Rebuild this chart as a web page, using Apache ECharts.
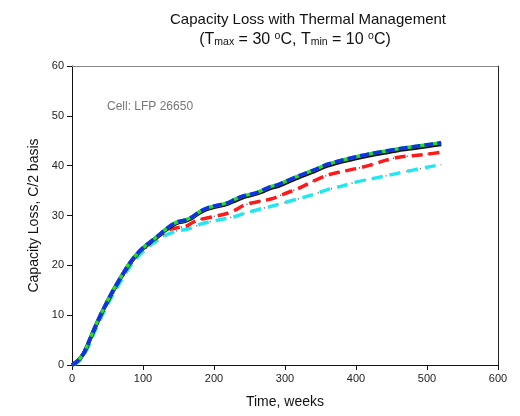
<!DOCTYPE html>
<html>
<head>
<meta charset="utf-8">
<script src="https://cdn.jsdelivr.net/npm/echarts@6/dist/echarts.min.js"></script>
<style>
  html, body { margin: 0; padding: 0; background: #fff; }
  #chart { width: 520px; height: 416px; }
</style>
</head>
<body>
<div id="chart"></div>
<script>
// weeks shared by all curves
const weeks = [0, 8, 16, 24, 32, 40, 48, 56, 64, 72, 80, 88, 96, 104, 112, 120, 130, 140, 150, 160,
  170, 180, 190, 200, 210, 220, 230, 240, 250, 260, 270, 280, 290, 300, 320, 340, 360, 380, 400,
  420, 440, 460, 480, 500, 520];

const lossBlue = [0, 0.8, 2.3, 4.8, 7.5, 10.0, 12.3, 14.5, 16.5, 18.4, 20.2, 21.7, 23.0, 24.0, 24.9, 25.8,
  27.0, 28.1, 28.8, 29.1, 29.8, 30.8, 31.5, 31.9, 32.2, 32.6, 33.3, 33.9, 34.2, 34.6, 35.2, 35.8, 36.2,
  36.8, 38.0, 39.1, 40.3, 41.1, 41.8, 42.4, 42.9, 43.4, 43.8, 44.2, 44.6];
const lossGreen = [0, 0.8, 2.3, 4.8, 7.5, 10.0, 12.3, 14.5, 16.5, 18.4, 20.2, 21.7, 23.0, 24.0, 24.9, 25.8,
  27.0, 28.1, 28.8, 29.1, 29.8, 30.8, 31.5, 31.9, 32.2, 32.6, 33.3, 33.9, 34.2, 34.6, 35.2, 35.8, 36.2,
  36.8, 38.0, 39.1, 40.3, 41.1, 41.8, 42.4, 42.9, 43.4, 43.8, 44.2, 44.6];
const lossBlack = [0, 0.8, 2.2, 4.7, 7.4, 9.9, 12.2, 14.4, 16.4, 18.3, 20.1, 21.6, 22.9, 23.9, 24.8, 25.7,
  26.9, 27.9, 28.6, 28.9, 29.6, 30.6, 31.3, 31.7, 32.0, 32.4, 33.0, 33.6, 34.0, 34.4, 34.9, 35.5, 35.9,
  36.5, 37.7, 38.8, 40.0, 40.8, 41.5, 42.1, 42.6, 43.1, 43.5, 43.9, 44.3];
const lossRed = [0, 0.8, 2.2, 4.6, 7.3, 9.8, 12.1, 14.3, 16.3, 18.2, 20.0, 21.5, 22.8, 23.8, 24.7, 25.6,
  26.6, 27.3, 27.6, 27.8, 28.6, 29.2, 29.5, 29.8, 30.1, 30.5, 31.1, 31.9, 32.4, 32.7, 33.0, 33.3, 33.8,
  34.4, 35.5, 36.9, 38.1, 38.8, 39.4, 40.1, 41.0, 41.7, 42.0, 42.3, 42.7];
const lossCyan = [0, 0.5, 1.8, 4.0, 6.7, 9.2, 11.5, 13.7, 15.7, 17.6, 19.4, 20.9, 22.2, 23.3, 24.2, 25.0,
  25.9, 26.5, 27.0, 27.2, 27.6, 28.2, 28.6, 28.9, 29.2, 29.5, 29.8, 30.3, 30.7, 31.1, 31.5, 31.8, 32.2,
  32.6, 33.4, 34.2, 35.2, 35.9, 36.7, 37.3, 37.9, 38.5, 39.1, 39.7, 40.2];

const xTicks = [0, 100, 200, 300, 400, 500, 600];
const yTicks = [0, 10, 20, 30, 40, 50, 60];

const pairs = arr => weeks.map((w, i) => [w, arr[i]]);

const chart = echarts.init(document.getElementById('chart'), null, { renderer: 'canvas' });

const font = 'Liberation Sans, Arial, sans-serif';

function line(name, data, color, width, type, z) {
  return {
    name, type: 'line', data: pairs(data), showSymbol: false, smooth: 0.3, z,
    lineStyle: { color, width, type, cap: 'butt' }
  };
}

const option = {
  animation: false,
  title: [
    {
      text: 'Capacity Loss with Thermal Management',
      left: 303, top: 7, textAlign: 'center',
      textStyle: { fontFamily: font, fontSize: 15, fontWeight: 'normal', color: '#111' }
    },
    {
      text: '{n|(T}{sub|max}{n| = 30 }{sup|o}{n|C, T}{sub|min}{n| = 10 }{sup|o}{n|C)}',
      left: 290, top: 26, textAlign: 'center',
      textStyle: {
        fontFamily: font, fontSize: 15, fontWeight: 'normal', color: '#111',
        rich: {
          n: { fontFamily: font, fontSize: 16, color: '#111', lineHeight: 17 },
          sub: { fontFamily: font, fontSize: 10.5, color: '#111', lineHeight: 4, verticalAlign: 'bottom' },
          sup: { fontFamily: font, fontSize: 10.5, color: '#111', lineHeight: 6, verticalAlign: 'top' }
        }
      }
    }
  ],
  graphic: [
    {
      type: 'text', left: 107, top: 101,
      style: { text: 'Cell: LFP 26650', fontFamily: font, fontSize: 12, fill: '#777' }
    }
  ],
  grid: { left: 72, right: 22, top: 66, bottom: 51 },
  xAxis: [
    {
      type: 'value', min: 0, max: 600, interval: 100,
      name: 'Time, weeks', nameLocation: 'middle', nameGap: 30,
      nameTextStyle: { fontFamily: font, fontSize: 14, color: '#111' },
      axisLine: { show: true, onZero: false, lineStyle: { color: '#111', width: 1 } },
      axisTick: { show: true, inside: false, length: 5, lineStyle: { color: '#111' } },
      axisLabel: {
        margin: 8, fontFamily: font, fontSize: 11, color: '#222',
        formatter: v => xTicks.includes(v) ? String(v) : ''
      },
      splitLine: { show: false }
    },
    {
      type: 'value', position: 'top', min: 0, max: 600,
      axisLine: { show: true, onZero: false, lineStyle: { color: '#888', width: 1 } },
      axisTick: { show: false }, axisLabel: { show: false }, splitLine: { show: false }
    }
  ],
  yAxis: [
    {
      type: 'value', min: 0, max: 60, interval: 10,
      name: 'Capacity Loss, C/2 basis', nameLocation: 'middle', nameGap: 31, nameRotate: 90,
      nameTextStyle: { fontFamily: font, fontSize: 14, color: '#111' },
      axisLine: { show: true, onZero: false, lineStyle: { color: '#111', width: 1 } },
      axisTick: { show: true, inside: false, length: 5, lineStyle: { color: '#111' } },
      axisLabel: {
        margin: 8, fontFamily: font, fontSize: 11, color: '#222',
        formatter: v => yTicks.includes(v) ? String(v) : ''
      },
      splitLine: { show: false }
    },
    {
      type: 'value', position: 'right', min: 0, max: 60,
      axisLine: { show: true, onZero: false, lineStyle: { color: '#222', width: 1 } },
      axisTick: { show: false }, axisLabel: { show: false }, splitLine: { show: false }
    }
  ],
  series: [
    line('cyan dots', lossCyan, '#666', 1.5, [1, 6], 2),
    line('cyan', lossCyan, '#22e6f2', 3.5, [11, 7], 3),
    line('red dots', lossRed, '#555', 1.5, [1, 6], 4),
    line('red', lossRed, '#ff1a1a', 3.5, [11, 6], 5),
    line('black', lossBlack, '#111', 4, 'solid', 6),
    line('green', lossGreen, '#22dd22', 3.5, 'solid', 7),
    line('blue', lossBlue, '#1030ee', 3.5, [9, 4], 8)
  ]
};

chart.setOption(option);
</script>
</body>
</html>
